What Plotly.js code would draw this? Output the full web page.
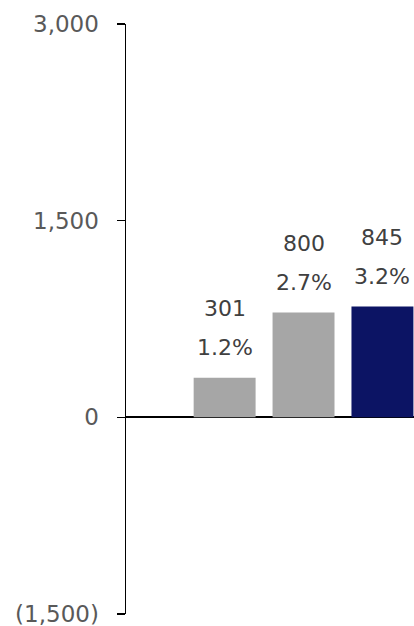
<!DOCTYPE html>
<html>
<head>
<meta charset="utf-8">
<script src="https://cdn.plot.ly/plotly-3.0.1.min.js"></script>
<style>html,body{margin:0;padding:0;background:#fff;}#chart{width:414px;height:626px;}</style>
</head>
<body>
<div id="chart"></div>
<script>
const categories = ["A", "B", "C"];
const values = [301, 800, 845];
const pctLabels = ["1.2%", "2.7%", "3.2%"];
const valueLabels = ["301", "800", "845"];
const barColors = ["#A6A6A6", "#A6A6A6", "#0C1464"];
const yTickVals = [-1500, 0, 1500, 3000];
const yTickText = ["(1,500)", "0", "1,500", "3,000"];

const font = "DejaVu Sans, Verdana, sans-serif";
const annotations = [];
categories.forEach((c, i) => {
  annotations.push({x: c, y: values[i], text: pctLabels[i], showarrow: false, yanchor: "middle", yshift: 30,
    font: {family: font, size: 22, color: "#404040"}});
  annotations.push({x: c, y: values[i], text: valueLabels[i], showarrow: false, yanchor: "middle", yshift: 69,
    font: {family: font, size: 22, color: "#404040"}});
});

Plotly.newPlot("chart", [{
  type: "bar", x: categories, y: values,
  marker: {color: barColors, line: {width: 0}},
  hoverinfo: "none"
}], {
  width: 414, height: 626,
  margin: {l: 126, r: 0, t: 24, b: 12, pad: 0},
  paper_bgcolor: "#fff", plot_bgcolor: "#fff",
  showlegend: false,
  bargap: 0.215,
  font: {family: font},
  xaxis: {type: "category", range: [-1.25, 2.40], showticklabels: false, showgrid: false, zeroline: false, showline: false, ticks: ""},
  yaxis: {range: [-1500, 3000], tickvals: yTickVals, ticktext: yTickText, showgrid: false,
    zeroline: true, zerolinecolor: "#000", zerolinewidth: 2,
    showline: true, linecolor: "#000", linewidth: 1.5,
    ticks: "outside", ticklen: 8, tickcolor: "#000", tickwidth: 1.5,
    ticklabelstandoff: 13, ticklabeloverflow: "allow",
    tickfont: {family: font, size: 23, color: "#595959"}},
  annotations: annotations
}, {staticPlot: true});
</script>
</body>
</html>
